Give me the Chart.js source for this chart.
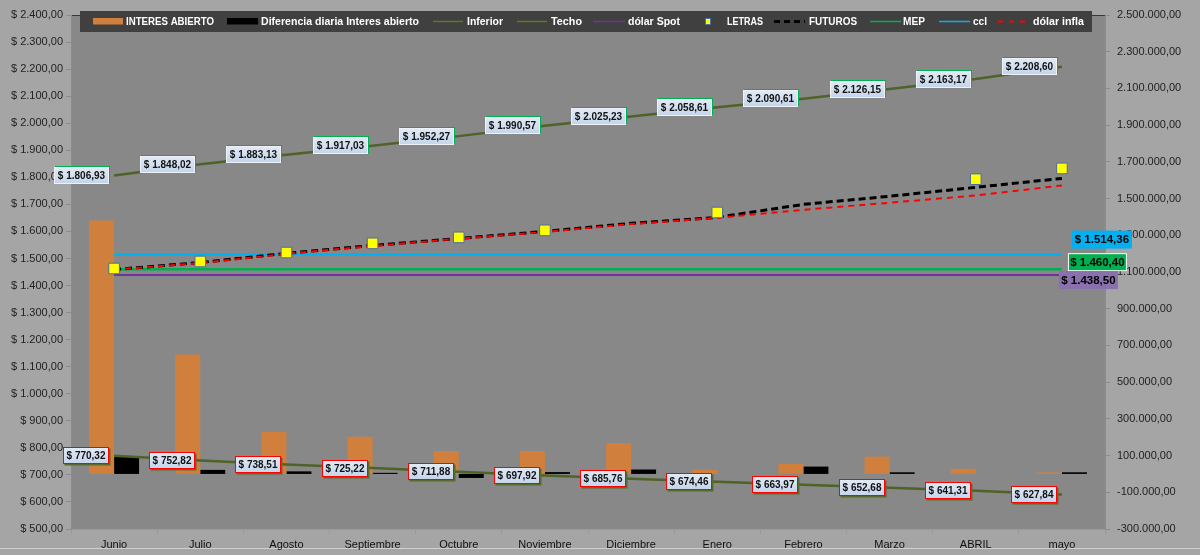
<!DOCTYPE html>
<html>
<head>
<meta charset="utf-8">
<script src="https://cdn.jsdelivr.net/npm/chart.js@4.4.1/dist/chart.umd.min.js"></script>
<style>
html,body{margin:0;padding:0;background:#A5A5A5;}
canvas{display:block;}
</style>
</head>
<body>
<canvas id="c" width="1200" height="555"></canvas>
<script>
// ---------- DATA ----------
const categories = ["Junio","Julio","Agosto","Septiembre","Octubre","Noviembre","Diciembre","Enero","Febrero","Marzo","ABRIL","mayo"];
const interesAbierto = [1380000, 650000, 230000, 202000, 125000, 125000, 168000, 23000, 55000, 94000, 28000, 8000];
const diferenciaDiaria = [92000, 22000, 14000, 6000, -22000, 10000, 24000, 0, 40000, 9000, 0, 9000];
const inferior = [770.32, 752.82, 738.51, 725.22, 711.88, 697.92, 685.76, 674.46, 663.97, 652.68, 641.31, 627.84];
const techo = [1806.93, 1848.02, 1883.13, 1917.03, 1952.27, 1990.57, 2025.23, 2058.61, 2090.61, 2126.15, 2163.17, 2208.60];
const dolarSpot = [1438.50, 1438.50, 1438.50, 1438.50, 1438.50, 1438.50, 1438.50, 1438.50, 1438.50, 1438.50, 1438.50, 1438.50];
const letras = [1463, 1489, 1522, 1556, 1578, 1604, null, 1670, null, null, 1793, 1833];
const futuros = [1459, 1485, 1519, 1548, 1574, 1600, 1630, 1652, 1700, 1730, 1763, 1796];
const mep = [1460.40, 1460.40, 1460.40, 1460.40, 1460.40, 1460.40, 1460.40, 1460.40, 1460.40, 1460.40, 1460.40, 1460.40];
const ccl = [1514.36, 1514.36, 1514.36, 1514.36, 1514.36, 1514.36, 1514.36, 1514.36, 1514.36, 1514.36, 1514.36, 1514.36];
const dolarInfla = [1459, 1483, 1517, 1546, 1573, 1598, 1627, 1650, 1680, 1706, 1733, 1770];
const leftTicks = {min: 500, max: 2400, step: 100};
const rightTicks = {min: -300000, max: 2500000, step: 200000};

// ---------- helpers ----------
function fmt(v){
  const neg = v < 0; v = Math.abs(v);
  let [i,d] = v.toFixed(2).split('.');
  i = i.replace(/\B(?=(\d{3})+(?!\d))/g,'.');
  return (neg?'-':'') + i + ',' + d;
}
const FONT = '"Liberation Sans", Arial, sans-serif';

const bgPlugin = {
  id:'bg',
  beforeDraw(chart){
    const {ctx, chartArea:a} = chart;
    ctx.save();
    ctx.fillStyle = '#A5A5A5';
    ctx.fillRect(0,0,chart.width,chart.height);
    ctx.fillStyle = '#888888';
    ctx.fillRect(a.left, a.top, a.right-a.left, a.bottom-a.top);
    ctx.strokeStyle = '#C00000';
    ctx.lineWidth = 1;
    ctx.beginPath(); ctx.moveTo(a.left, a.top+0.5); ctx.lineTo(a.right, a.top+0.5); ctx.stroke();
    ctx.strokeStyle = '#D0D0D0';
    ctx.beginPath(); ctx.moveTo(0, chart.height-6.5); ctx.lineTo(chart.width, chart.height-6.5); ctx.stroke();
    ctx.restore();
  }
};

function drawBox(ctx, cx, cy, w, h, text, kind){
  const x = Math.round(cx - w/2), y = Math.round(cy - h/2);
  ctx.save();
  if(kind === 'top'){
    ctx.fillStyle = '#00B050';
    ctx.fillRect(x+1, y-1, w, h);
  } else {
    ctx.fillStyle = '#5A6B2E';
    ctx.fillRect(x+1.5, y+1.5, w, h);
  }
  const g = ctx.createLinearGradient(0, y, 0, y+h);
  g.addColorStop(0,'#E3EBF6'); g.addColorStop(1,'#C3D4EA');
  ctx.fillStyle = g;
  ctx.fillRect(x, y, w, h);
  ctx.strokeStyle = kind === 'top' ? '#EEF2F8' : '#FF0000';
  ctx.lineWidth = 1;
  ctx.strokeRect(x+0.5, y+0.5, w-1, h-1);
  ctx.fillStyle = '#111';
  ctx.font = 'bold 10px ' + FONT;
  ctx.textAlign = 'center'; ctx.textBaseline = 'middle';
  ctx.fillText(text, x + w/2, y + h/2 + 0.5, w-4);
  ctx.restore();
}

function drawFilled(ctx, x, y, w, h, fill, text, border){
  ctx.save();
  ctx.fillStyle = fill;
  ctx.fillRect(x, y, w, h);
  if(border){ ctx.strokeStyle = border; ctx.lineWidth = 1; ctx.strokeRect(x+0.5,y+0.5,w-1,h-1); }
  ctx.fillStyle = '#000';
  ctx.font = 'bold 11.5px ' + FONT;
  ctx.textAlign = 'center'; ctx.textBaseline = 'middle';
  ctx.fillText(text, x + w/2, y + h/2 + 0.5, w-2);
  ctx.restore();
}

const labelPlugin = {
  id:'labels',
  afterDatasetsDraw(chart){
    const ctx = chart.ctx;
    const mTop = chart.getDatasetMeta(3), mInf = chart.getDatasetMeta(2);
    mTop.data.forEach((p,i)=>{
      drawBox(ctx, p.x - 5 - 27.5, p.y, 55, 17, '$ ' + fmt(techo[i]), 'top');
    });
    mInf.data.forEach((p,i)=>{
      drawBox(ctx, p.x - 5 - 23, p.y, 46, 17, '$ ' + fmt(inferior[i]), 'bottom');
    });
    const last = categories.length - 1;
    const pc = chart.getDatasetMeta(8).data[last];
    const pm = chart.getDatasetMeta(7).data[last];
    const ps = chart.getDatasetMeta(4).data[last];
    drawFilled(ctx, pc.x + 10, pc.y - 24, 60, 18, '#00B0F0', '$ ' + fmt(ccl[last]));
    drawFilled(ctx, pm.x + 6, pm.y - 16, 59, 18, '#00B050', '$ ' + fmt(mep[last]), '#FFFFFF');
    drawFilled(ctx, ps.x - 3, ps.y - 4, 59, 18, '#8A70AC', '$ ' + fmt(dolarSpot[last]));
  }
};

const legendPlugin = {
  id:'customLegend',
  afterDraw(chart){
    const ctx = chart.ctx;
    ctx.save();
    ctx.fillStyle = '#404040';
    ctx.fillRect(80, 11, 1012, 21);
    const cy = 21.5;
    ctx.font = 'bold 11px ' + FONT;
    ctx.textBaseline = 'middle'; ctx.textAlign = 'left';
    const items = [
      {type:'rect', c:'#D0803C', x0:93, x1:123, tx:126, tw:88, t:'INTERES ABIERTO'},
      {type:'rect', c:'#000000', x0:227, x1:258, tx:261, tw:158, t:'Diferencia diaria Interes abierto'},
      {type:'line', c:'#5E7A23', x0:433, x1:463, tx:467, tw:36, t:'Inferior', lw:1.5},
      {type:'line', c:'#5E7A23', x0:517, x1:547, tx:551, tw:31, t:'Techo', lw:1.5},
      {type:'line', c:'#7030A0', x0:593, x1:625, tx:628, tw:52, t:'dólar Spot', lw:1.5},
      {type:'sq', c:'#FFFF00', x0:705, x1:711, tx:727, tw:36, t:'LETRAS'},
      {type:'dash', c:'#000000', x0:774, x1:805, tx:809, tw:48, t:'FUTUROS', lw:3, d:[6,4]},
      {type:'line', c:'#00B050', x0:870, x1:901, tx:903, tw:22, t:'MEP', lw:1.5},
      {type:'line', c:'#00B0F0', x0:939, x1:970, tx:973, tw:14, t:'ccl', lw:1.5},
      {type:'dash', c:'#FF0000', x0:998, x1:1030, tx:1033, tw:51, t:'dólar infla', lw:2, d:[5,6]}
    ];
    items.forEach(it=>{
      if(it.type==='rect'){
        ctx.fillStyle = it.c; ctx.fillRect(it.x0, cy-3.5, it.x1-it.x0, 6.5);
      } else if(it.type==='sq'){
        ctx.fillStyle = it.c; ctx.fillRect(it.x0, cy-3.5, 6, 7);
        ctx.strokeStyle = '#4A6FA5'; ctx.lineWidth = 1; ctx.strokeRect(it.x0+0.5, cy-3, 5, 6);
      } else {
        ctx.strokeStyle = it.c; ctx.lineWidth = it.lw;
        ctx.setLineDash(it.type==='dash' ? it.d : []);
        ctx.beginPath(); ctx.moveTo(it.x0, cy); ctx.lineTo(it.x1, cy); ctx.stroke();
        ctx.setLineDash([]);
      }
      ctx.fillStyle = '#FFFFFF';
      ctx.fillText(it.t, it.tx, cy+0.5, it.tw);
    });
    ctx.restore();
  }
};

const ctx = document.getElementById('c').getContext('2d');
new Chart(ctx, {
  data: {
    labels: categories,
    datasets: [
      {type:'bar', label:'INTERES ABIERTO', data: interesAbierto, yAxisID:'y2', backgroundColor:'#D0803C', order:19, categoryPercentage:0.58, barPercentage:1},
      {type:'bar', label:'Diferencia diaria Interes abierto', data: diferenciaDiaria, yAxisID:'y2', backgroundColor:'#000000', order:20, categoryPercentage:0.58, barPercentage:1},
      {type:'line', label:'Inferior', data: inferior, yAxisID:'y', borderColor:'#4F6228', borderWidth:2.5, pointRadius:0, order:10},
      {type:'line', label:'Techo', data: techo, yAxisID:'y', borderColor:'#4F6228', borderWidth:2.5, pointRadius:0, order:10},
      {type:'line', label:'dólar Spot', data: dolarSpot, yAxisID:'y', borderColor:'#7030A0', borderWidth:2, pointRadius:0, order:9},
      {type:'line', label:'LETRAS', data: letras, yAxisID:'y', showLine:false, pointStyle:'rect', pointRadius:7.5, pointBackgroundColor:'#FFFF00', pointBorderColor:'#4A6FA5', pointBorderWidth:1, order:1},
      {type:'line', label:'FUTUROS', data: futuros, yAxisID:'y', borderColor:'#000000', borderWidth:3, borderDash:[7,4], pointRadius:0, order:4},
      {type:'line', label:'MEP', data: mep, yAxisID:'y', borderColor:'#00B050', borderWidth:2.5, pointRadius:0, order:8},
      {type:'line', label:'ccl', data: ccl, yAxisID:'y', borderColor:'#00B0F0', borderWidth:2, pointRadius:0, order:7},
      {type:'line', label:'dólar infla', data: dolarInfla, yAxisID:'y', borderColor:'#FF0000', borderWidth:2, borderDash:[6,5], pointRadius:0, order:3}
    ]
  },
  options: {
    responsive:false,
    animation:false,
    devicePixelRatio:1,
    layout:{padding:{top:15, left:0, right:0, bottom:0}},
    plugins:{legend:{display:false}, tooltip:{enabled:false}, title:{display:false}},
    scales:{
      x:{
        grid:{offset:true, drawOnChartArea:false, tickLength:5, color:'#9A9A9A'},
        border:{display:true, color:'#9A9A9A'},
        ticks:{color:'#111', font:{family:FONT, size:11}, padding:4, maxRotation:0, autoSkip:false},
        afterFit(s){ s.height = 26; }
      },
      y:{
        position:'left', min:leftTicks.min, max:leftTicks.max,
        grid:{drawOnChartArea:false, tickLength:5, color:'#8C8C8C'},
        border:{display:true, color:'#8C8C8C'},
        ticks:{stepSize:leftTicks.step, color:'#222', font:{family:FONT, size:11}, padding:3,
          callback:(v)=>'$ ' + fmt(v)},
        afterFit(s){ s.width = 71; }
      },
      y2:{
        position:'right', min:rightTicks.min, max:rightTicks.max,
        grid:{drawOnChartArea:false, tickLength:5, color:'#8C8C8C'},
        border:{display:true, color:'#8C8C8C'},
        ticks:{stepSize:rightTicks.step, color:'#222', font:{family:FONT, size:11}, padding:7,
          callback:(v)=>fmt(v)},
        afterFit(s){ s.width = 95; }
      }
    }
  },
  plugins:[bgPlugin, labelPlugin, legendPlugin]
});
</script>
</body>
</html>
